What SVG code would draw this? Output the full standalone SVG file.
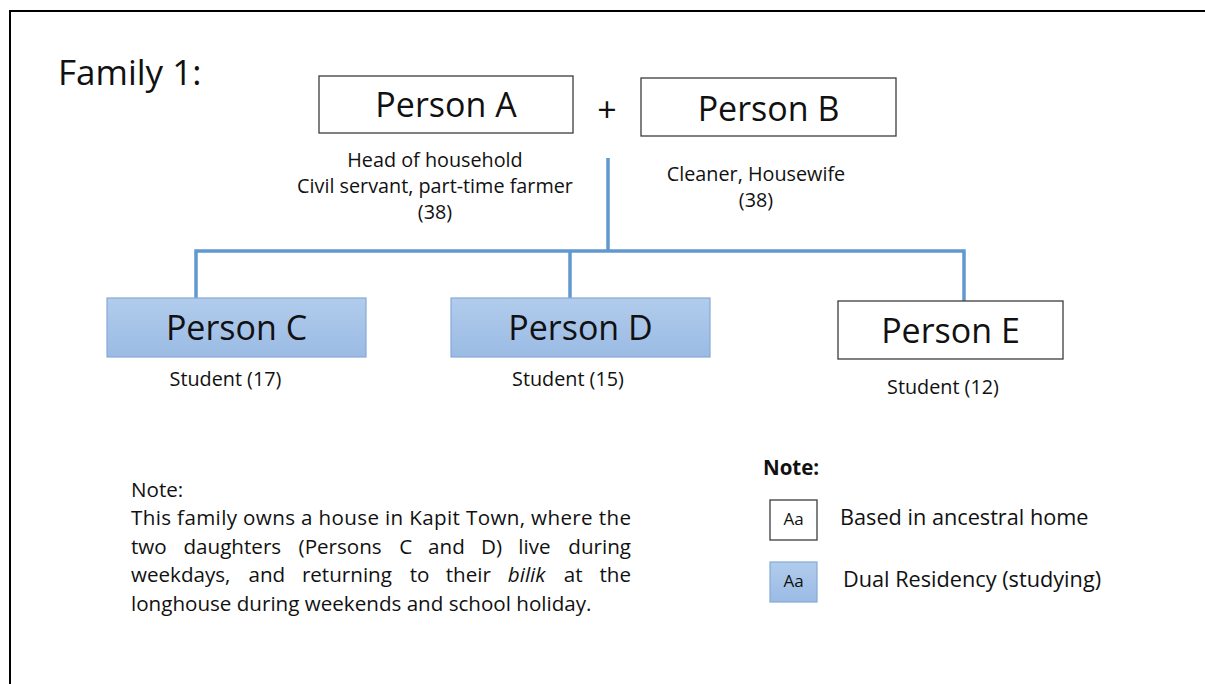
<svg xmlns="http://www.w3.org/2000/svg" width="1205" height="684" viewBox="0 0 1205 684">
  <defs>
    <linearGradient id="blueFill" x1="0" y1="0" x2="0" y2="1">
      <stop offset="0" stop-color="#b1ccec"/>
      <stop offset="1" stop-color="#9bbbe4"/>
    </linearGradient>
    <style>
      text { font-family: "Open Sans", "Liberation Sans", sans-serif; fill: #111; }
      .box { fill: #fff; stroke: #3c3c3c; stroke-width: 1.3; }
      .bluebox { fill: url(#blueFill); stroke: #86a9d6; stroke-width: 1.2; }
      .name { font-size: 34px; text-anchor: middle; }
      .lbl { font-size: 19.8px; text-anchor: middle; }
      .para { font-size: 20.6px; }
      .legend { font-size: 21.7px; }
      .aa { font-size: 17px; text-anchor: middle; }
      .link { fill: none; stroke: #6198cf; stroke-width: 3.5; stroke-linejoin: miter; }
    </style>
  </defs>

  <rect width="1205" height="684" fill="#fff"/>
  <!-- slide frame -->
  <path d="M10,684 V11 H1205" fill="none" stroke="#000" stroke-width="2"/>

  <text x="58" y="85" font-size="35">Family 1:</text>

  <!-- connectors -->
  <g id="connectors">
    <path class="link" d="M196,298 V251 H964 V301"/>
    <path class="link" d="M608,158 V251"/>
    <path class="link" d="M570,251 V298"/>
  </g>

  <g id="personA">
    <rect class="box" x="319" y="76" width="254" height="57"/>
    <text class="name" x="446" y="117">Person A</text>
    <text class="lbl" x="435" y="167">Head of household</text>
    <text class="lbl" x="435" y="193">Civil servant, part-time farmer</text>
    <text class="lbl" x="435" y="219">(38)</text>
  </g>

  <text x="607" y="122" font-size="34" text-anchor="middle">+</text>

  <g id="personB">
    <rect class="box" x="641" y="78" width="255" height="58"/>
    <text class="name" x="768.5" y="121">Person B</text>
    <text class="lbl" x="756" y="181">Cleaner, Housewife</text>
    <text class="lbl" x="756" y="207">(38)</text>
  </g>

  <g id="personC">
    <rect class="bluebox" x="107" y="298" width="259" height="59"/>
    <text class="name" x="236.5" y="340">Person C</text>
    <text class="lbl" x="225.5" y="386">Student (17)</text>
  </g>

  <g id="personD">
    <rect class="bluebox" x="451" y="298" width="259" height="59"/>
    <text class="name" x="580.5" y="340">Person D</text>
    <text class="lbl" x="568" y="386">Student (15)</text>
  </g>

  <g id="personE">
    <rect class="box" x="838" y="301" width="225" height="58"/>
    <text class="name" x="950.5" y="343">Person E</text>
    <text class="lbl" x="943" y="394">Student (12)</text>
  </g>

  <!-- explanatory note, justified lines placed word by word -->
  <g id="note">
    <text class="para" x="131" y="497">Note:</text>
    <text class="para" x="131" y="525" textLength="500" lengthAdjust="spacing">This family owns a house in Kapit Town, where the</text>
    <text class="para" y="554"><tspan x="131">two</tspan><tspan x="183.5">daughters</tspan><tspan x="298.6">(Persons</tspan><tspan x="399.2">C</tspan><tspan x="428.1">and</tspan><tspan x="481.1">D)</tspan><tspan x="518.3">live</tspan></text>
    <text class="para" x="631" y="554" text-anchor="end">during</text>
    <text class="para" y="582"><tspan x="131">weekdays,</tspan><tspan x="248.5">and</tspan><tspan x="301.9">returning</tspan><tspan x="409.7">to</tspan><tspan x="445.7">their</tspan><tspan x="507.8" font-style="italic">bilik</tspan><tspan x="563.7">at</tspan></text>
    <text class="para" x="631" y="582" text-anchor="end">the</text>
    <text class="para" x="131" y="611">longhouse during weekends and school holiday.</text>
  </g>

  <!-- key -->
  <g id="legend">
    <text x="763" y="475" font-size="20.5" font-weight="bold">Note:</text>
    <rect class="box" x="770" y="500" width="47" height="40"/>
    <text class="aa" x="793.5" y="525">Aa</text>
    <text class="legend" x="840" y="525">Based in ancestral home</text>
    <rect class="bluebox" x="770" y="562" width="47" height="40"/>
    <text class="aa" x="793.5" y="587">Aa</text>
    <text class="legend" x="843" y="587">Dual Residency (studying)</text>
  </g>
</svg>
